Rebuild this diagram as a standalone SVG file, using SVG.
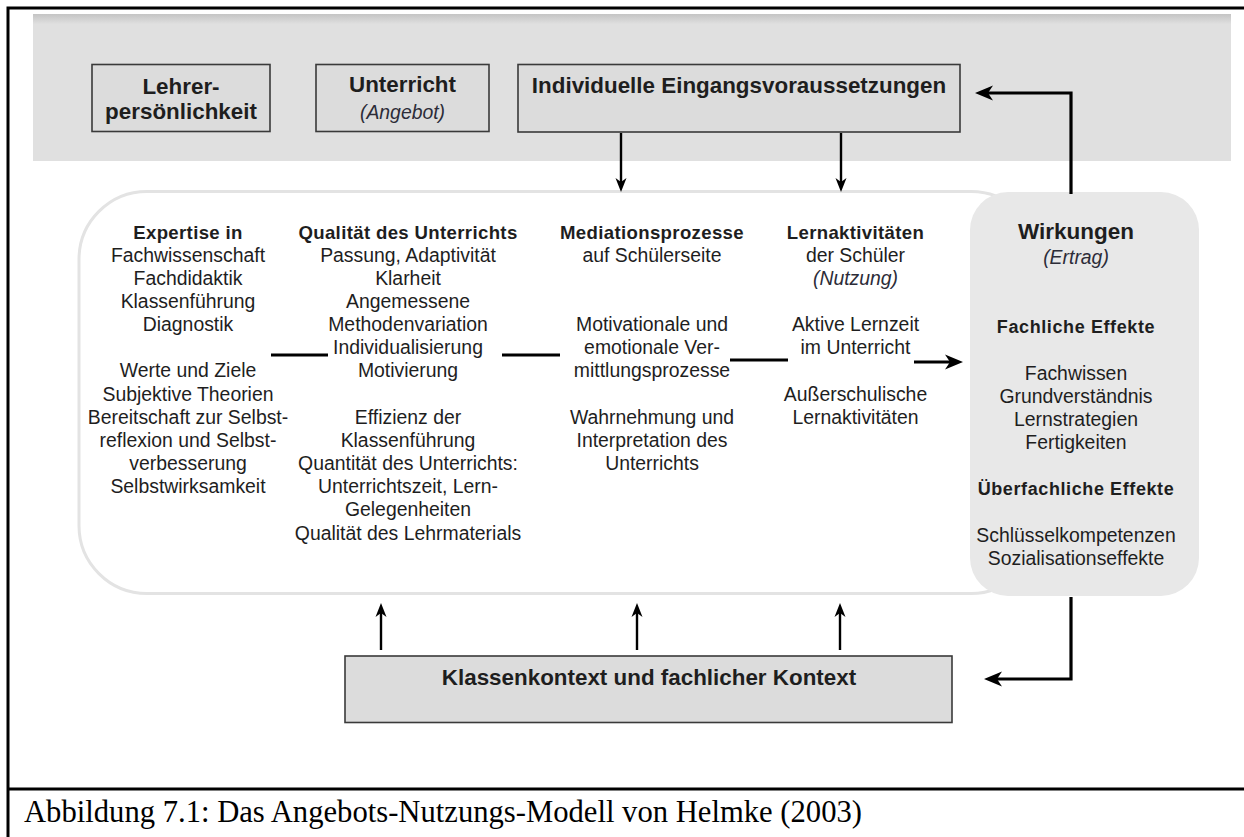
<svg xmlns="http://www.w3.org/2000/svg" width="1244" height="837" viewBox="0 0 1244 837">
<style>
  text { font-family: "Liberation Sans", Arial, sans-serif; fill: #1e1e1e; text-anchor: middle; }
  .hd { font-size: 22.4px; font-weight: bold; }
  .it { font-size: 19.4px; font-style: italic; fill: #2c2c38; }
  .b { font-size: 18.6px; font-weight: bold; letter-spacing: 0.35px; }
  .r { font-size: 19.4px; }
  .eff { font-size: 18px; font-weight: bold; letter-spacing: 0.6px; }
  .box { fill: #dcdcdc; stroke: #3a3a3a; stroke-width: 1.6; }
  .conn { fill: none; stroke: #000; stroke-width: 3.2; }
  .thin { fill: none; stroke: #000; stroke-width: 2.4; }
  .cap { font-family: "Liberation Serif", "Times New Roman", serif; font-size: 30.5px; text-anchor: start; fill: #000; }
</style>
<defs>
  <linearGradient id="bandGrad" x1="0" y1="0" x2="0" y2="1">
    <stop offset="0" stop-color="#c4c4c4"/>
    <stop offset="0.07" stop-color="#e0e0e0"/>
    <stop offset="1" stop-color="#e0e0e0"/>
  </linearGradient>
  <marker id="arrowL" viewBox="0 0 18 16" markerWidth="18" markerHeight="16" refX="8" refY="8" orient="auto" markerUnits="userSpaceOnUse">
    <path d="M0,0.5 L18,8 L0,15.5 L5,8 z" fill="#000"/>
  </marker>
  <marker id="arrowS" viewBox="0 0 14 12" markerWidth="14" markerHeight="12" refX="6" refY="6" orient="auto" markerUnits="userSpaceOnUse">
    <path d="M0,0.5 L14,6 L0,11.5 L4,6 z" fill="#000"/>
  </marker>
</defs>

<rect x="0" y="0" width="1244" height="837" fill="#fff"/>

<!-- frame -->
<g id="frame" fill="none" stroke="#000" stroke-width="3">
  <path d="M8,837 L8,8 L1244,8"/>
  <path d="M8,789 L1244,789"/>
</g>

<!-- grey band -->
<rect id="band" x="33" y="14" width="1198" height="147" fill="url(#bandGrad)"/>

<!-- main rounded area -->
<rect id="process-area" x="79" y="191.5" width="960" height="402" rx="68" ry="68" fill="#fff" stroke="#e3e3e3" stroke-width="3"/>

<g id="lehrer">
  <rect class="box" x="92" y="64.5" width="178" height="67"/>
  <text class="hd" x="181" y="94">Lehrer-</text>
  <text class="hd" x="181" y="119">persönlichkeit</text>
</g>

<g id="unterricht">
  <rect class="box" x="316" y="64.5" width="173" height="67"/>
  <text class="hd" x="402.5" y="92">Unterricht</text>
  <text class="it" x="402.5" y="119">(Angebot)</text>
</g>

<g id="eingang">
  <rect class="box" x="518" y="64.5" width="442" height="67.5"/>
  <text class="hd" x="739" y="93">Individuelle Eingangsvoraussetzungen</text>
</g>

<g id="klassenkontext">
  <rect class="box" x="345" y="656" width="607" height="66.5"/>
  <text class="hd" x="649" y="685">Klassenkontext und fachlicher Kontext</text>
</g>

<g id="wirkungen">
  <rect x="970" y="192" width="229" height="404" rx="38" ry="38" fill="#e8e8e8"/>
  <text x="1076" y="238.5" style="font-size:22.5px;font-weight:bold">Wirkungen</text>
  <text class="it" x="1076" y="263.5">(Ertrag)</text>
  <text class="eff" x="1076" y="332.5">Fachliche Effekte</text>
  <text class="r" x="1076" y="379.5">Fachwissen</text>
  <text class="r" x="1076" y="402.7">Grundverständnis</text>
  <text class="r" x="1076" y="425.8">Lernstrategien</text>
  <text class="r" x="1076" y="449">Fertigkeiten</text>
  <text class="eff" x="1076" y="494.5">Überfachliche Effekte</text>
  <text class="r" x="1076" y="541.5">Schlüsselkompetenzen</text>
  <text class="r" x="1076" y="564.5">Sozialisationseffekte</text>
</g>

<g id="expertise">
  <text class="b" x="188" y="238.5">Expertise in</text>
  <text class="r" x="188" y="261.7">Fachwissenschaft</text>
  <text class="r" x="188" y="284.8">Fachdidaktik</text>
  <text class="r" x="188" y="308">Klassenführung</text>
  <text class="r" x="188" y="331.1">Diagnostik</text>
  <text class="r" x="188" y="377.4">Werte und Ziele</text>
  <text class="r" x="188" y="400.6">Subjektive Theorien</text>
  <text class="r" x="188" y="423.7">Bereitschaft zur Selbst-</text>
  <text class="r" x="188" y="446.9">reflexion und Selbst-</text>
  <text class="r" x="188" y="470">verbesserung</text>
  <text class="r" x="188" y="493.2">Selbstwirksamkeit</text>
</g>

<g id="qualitaet">
  <text class="b" x="408" y="238.5">Qualität des Unterrichts</text>
  <text class="r" x="408" y="261.7">Passung, Adaptivität</text>
  <text class="r" x="408" y="284.8">Klarheit</text>
  <text class="r" x="408" y="308">Angemessene</text>
  <text class="r" x="408" y="331.1">Methodenvariation</text>
  <text class="r" x="408" y="354.3">Individualisierung</text>
  <text class="r" x="408" y="377.4">Motivierung</text>
  <text class="r" x="408" y="423.7">Effizienz der</text>
  <text class="r" x="408" y="446.9">Klassenführung</text>
  <text class="r" x="408" y="470">Quantität des Unterrichts:</text>
  <text class="r" x="408" y="493.2">Unterrichtszeit, Lern-</text>
  <text class="r" x="408" y="516.3">Gelegenheiten</text>
  <text class="r" x="408" y="539.5">Qualität des Lehrmaterials</text>
</g>

<g id="mediation">
  <text class="b" x="652" y="238.5">Mediationsprozesse</text>
  <text class="r" x="652" y="261.7">auf Schülerseite</text>
  <text class="r" x="652" y="331.1">Motivationale und</text>
  <text class="r" x="652" y="354.3">emotionale Ver-</text>
  <text class="r" x="652" y="377.4">mittlungsprozesse</text>
  <text class="r" x="652" y="423.7">Wahrnehmung und</text>
  <text class="r" x="652" y="446.9">Interpretation des</text>
  <text class="r" x="652" y="470">Unterrichts</text>
</g>

<g id="lernaktivitaeten">
  <text class="b" x="855.5" y="238.5">Lernaktivitäten</text>
  <text class="r" x="855.5" y="261.7">der Schüler</text>
  <text class="it" x="855.5" y="284.8">(Nutzung)</text>
  <text class="r" x="855.5" y="331.1">Aktive Lernzeit</text>
  <text class="r" x="855.5" y="354.3">im Unterricht</text>
  <text class="r" x="855.5" y="400.6">Außerschulische</text>
  <text class="r" x="855.5" y="423.7">Lernaktivitäten</text>
</g>

<g id="connectors">
  <line class="conn" x1="271" y1="355" x2="328" y2="355"/>
  <line class="conn" x1="502" y1="355" x2="560" y2="355"/>
  <line class="conn" x1="730" y1="360" x2="788" y2="360"/>
  <line class="conn" x1="914" y1="362" x2="953" y2="362" marker-end="url(#arrowL)"/>
  <line class="thin" x1="621" y1="133" x2="621" y2="184" marker-end="url(#arrowS)"/>
  <line class="thin" x1="841" y1="133" x2="841" y2="184" marker-end="url(#arrowS)"/>
  <line class="thin" x1="381" y1="650" x2="381" y2="611" marker-end="url(#arrowS)"/>
  <line class="thin" x1="637" y1="650" x2="637" y2="611" marker-end="url(#arrowS)"/>
  <line class="thin" x1="840" y1="650" x2="840" y2="611" marker-end="url(#arrowS)"/>
  <polyline class="conn" points="1071,194 1071,93 985,93" marker-end="url(#arrowL)"/>
  <polyline class="conn" points="1071,597 1071,679 994,679" marker-end="url(#arrowL)"/>
</g>

<text id="caption" class="cap" x="24" y="822" textLength="838" lengthAdjust="spacingAndGlyphs">Abbildung 7.1: Das Angebots-Nutzungs-Modell von Helmke (2003)</text>
</svg>
